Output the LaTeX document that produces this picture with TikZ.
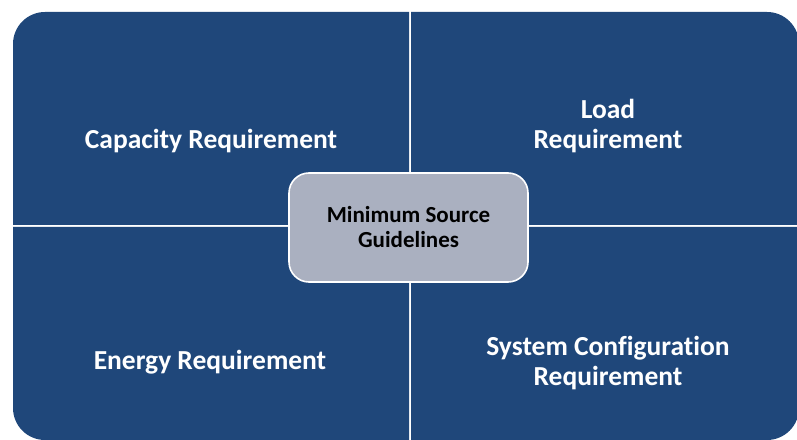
\documentclass[tikz,border=0pt]{standalone}
\usepackage{fontspec}
\setmainfont{Carlito}[Ligatures=NoCommon]
\usetikzlibrary{positioning}
\definecolor{quadblue}{RGB}{31,71,122}
\definecolor{hubgray}{RGB}{170,176,192}

\begin{document}
\begin{tikzpicture}[x=1pt,y=1pt]
\useasboundingbox (0,0) rectangle (797,439);
\tikzset{
  quadlabel/.style={text=white, font=\bfseries\fontsize{27.5}{30}\selectfont, align=center},
  hub/.style={fill=hubgray, draw=white, line width=1.6pt, rounded corners=20pt,
    minimum width=239pt, minimum height=109pt, align=center,
    font=\bfseries\fontsize{23}{25}\selectfont}
}

% four quadrants, each with one rounded outer corner
\fill[quadblue] (13,214) -- (13,395) arc[start angle=180, end angle=90, radius=32] -- (409,427) -- (409,214) -- cycle; % top left
\fill[quadblue] (411,214) -- (411,427) -- (767,427) arc[start angle=90, end angle=0, radius=32] -- (799,214) -- cycle; % top right
\fill[quadblue] (13,212) -- (13,31) arc[start angle=180, end angle=270, radius=32] -- (409,-1) -- (409,212) -- cycle; % bottom left
\fill[quadblue] (411,212) -- (411,-1) -- (767,-1) arc[start angle=270, end angle=360, radius=32] -- (799,212) -- cycle; % bottom right

\node[quadlabel] (capreq) at (211,298) {Capacity Requirement};
\node[quadlabel] (loadreq) at (608,313) {Load\\Requirement};
\node[quadlabel] (enreq) at (210,77) {Energy Requirement};
\node[quadlabel] (sysreq) at (608,76) {System Configuration\\Requirement};

\node[hub] (guide) at (408.5,211.5) {Minimum Source\\Guidelines};

\end{tikzpicture}
\end{document}
